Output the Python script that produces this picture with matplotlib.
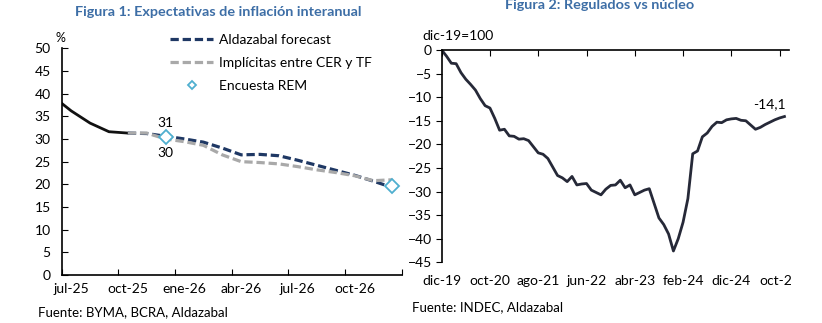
import numpy as np
import matplotlib.pyplot as plt
from matplotlib.transforms import Bbox

plt.rcParams['font.family'] = ['Lato', 'DejaVu Sans']
plt.rcParams['font.size'] = 10

# Figure 1 data: monthly, jun-25 .. dic-26
months_1 = ['jun-25', 'jul-25', 'ago-25', 'sep-25', 'oct-25', 'nov-25', 'dic-25',
            'ene-26', 'feb-26', 'mar-26', 'abr-26', 'may-26', 'jun-26', 'jul-26',
            'ago-26', 'sep-26', 'oct-26', 'nov-26', 'dic-26']
actual = [39.5, 36.2, 33.5, 31.6, 31.3]
forecast = [31.3, 31.2, 30.6, 30.0, 29.3, 28.0, 26.5, 26.6, 26.3, 25.3,
            24.2, 23.1, 22.0, 20.7, 19.3]
implicit = [31.3, 31.3, 30.0, 29.4, 28.6, 26.5, 25.0, 24.8, 24.5, 23.9,
            23.2, 22.6, 21.9, 20.8, 21.0]
rem_months = ['dic-25', 'dic-26']
rem_values = [30.5, 19.6]
tick_labels_1 = ['jul-25', 'oct-25', 'ene-26', 'abr-26', 'jul-26', 'oct-26']

# Figure 2 data: monthly, dic-19 .. nov-25
regulados = [0.0, -1.3, -2.8, -2.9, -4.8, -6.2, -7.3, -8.5, -10.3, -11.8,
             -12.3, -14.5, -17.0, -16.8, -18.2, -18.3, -18.9, -18.8, -19.2, -20.5,
             -21.8, -22.1, -23.0, -24.8, -26.6, -27.1, -27.9, -26.8, -28.6, -28.4,
             -28.3, -29.7, -30.2, -30.7, -29.5, -28.7, -28.6, -27.6, -29.2, -28.6,
             -30.7, -30.2, -29.7, -29.4, -32.5, -35.6, -37.0, -39.0, -42.6, -40.0,
             -36.5, -31.5, -22.0, -21.4, -18.4, -17.6, -16.2, -15.3, -15.4, -14.8,
             -14.6, -14.5, -14.9, -15.0, -15.9, -16.8, -16.4, -15.8, -15.3, -14.8,
             -14.4, -14.1]
tick_labels_2 = ['dic-19', 'oct-20', 'ago-21', 'jun-22', 'abr-23', 'feb-24',
                 'dic-24', 'oct-25']

title_color = '#3D6EA6'
navy = '#1F3864'
grey = '#A9A9A9'
rem_color = '#4FAFCF'

fig = plt.figure(figsize=(8.22, 3.23), dpi=100)

# ---- Figura 1 ----
ax1 = fig.add_axes([0.0751, 0.1486, 0.4136, 0.7019])
x1 = np.arange(len(months_1))
ax1.plot(x1[:5], actual, color='#111111', lw=2.0, solid_joinstyle='round')
ax1.plot(x1[4:], forecast, color=navy, lw=2.3, dashes=(2.6, 1.2),
         label='Aldazabal forecast')
ax1.plot(x1[4:], implicit, color=grey, lw=2.3, dashes=(2.6, 1.2),
         label='Implícitas entre CER y TF')
rem_x = [months_1.index(m) for m in rem_months]
ax1.plot(rem_x, rem_values, ls='none', marker='D', ms=7, mfc='white',
         mec=rem_color, mew=1.3, label='Encuesta REM')

i_dic = months_1.index('dic-25')
ax1.text(i_dic, forecast[i_dic - 4] + 1.6, f'{forecast[i_dic - 4]:.0f}',
         ha='center', va='bottom', fontsize=10)
ax1.text(i_dic, implicit[i_dic - 4] - 1.7, f'{implicit[i_dic - 4]:.0f}',
         ha='center', va='top', fontsize=10)

ax1.set_xlim(0.5, len(months_1) - 0.5)
ax1.set_ylim(0, 50)
ax1.set_yticks(np.arange(0, 51, 5))
ax1.set_xticks(np.arange(0.5, len(months_1), 3))
ax1.set_xticklabels([])
ax1.set_xticks([months_1.index(m) for m in tick_labels_1], minor=True)
ax1.set_xticklabels(tick_labels_1, minor=True)
ax1.tick_params(axis='x', which='minor', length=0, pad=6)
ax1.tick_params(axis='x', which='major', direction='in', length=4)
ax1.tick_params(axis='y', direction='in', length=4, pad=8)
for s in ['top', 'right']:
    ax1.spines[s].set_visible(False)
for s in ['left', 'bottom']:
    ax1.spines[s].set_linewidth(1.2)

leg = ax1.legend(loc='upper left', bbox_to_anchor=(0.2068, 0.895),
                 bbox_transform=fig.transFigure, frameon=False,
                 borderpad=0, borderaxespad=0, handlelength=3.1,
                 handletextpad=0.4, labelspacing=0.8, fontsize=10,
                 markerscale=0.6)

fig.text(0.265, 0.962, 'Figura 1: Expectativas de inflación interanual',
         ha='center', va='center', fontsize=10.4, fontweight='bold',
         color=title_color)
fig.text(0.074, 0.882, '%', ha='center', va='center', fontsize=9)
fig.text(0.046, 0.035, 'Fuente: BYMA, BCRA, Aldazabal', ha='left',
         va='center', fontsize=9.5)

# ---- Figura 2 ----
ax2 = fig.add_axes([0.5373, 0.1879, 0.4229, 0.6573])
x2 = np.arange(len(regulados))
ax2.plot(x2, regulados, color='#262938', lw=2.0, solid_joinstyle='round')
ax2.text(x2[-1] + 0.3, regulados[-1] + 1.3, f'{regulados[-1]:.1f}'.replace('.', ','),
         ha='right', va='bottom', fontsize=10)

ax2.set_xlim(0, 72)
ax2.set_ylim(-45, 0)
ax2.set_yticks(np.arange(-45, 1, 5))
ax2.set_xticks(np.arange(0, 71, 10))
ax2.set_xticklabels(tick_labels_2)
ax2.tick_params(axis='x', top=True, bottom=False, labeltop=False,
                labelbottom=True, direction='in', length=4, pad=9)
ax2.tick_params(axis='y', direction='out', length=4, pad=3)
for s in ['bottom', 'right']:
    ax2.spines[s].set_visible(False)
for s in ['left', 'top']:
    ax2.spines[s].set_linewidth(1.2)

fig.text(0.73, 0.985, 'Figura 2: Regulados vs núcleo', ha='center',
         va='center', fontsize=10.4, fontweight='bold', color=title_color)
fig.text(0.514, 0.89, 'dic-19=100', ha='left', va='center', fontsize=10)
fig.text(0.501, 0.05, 'Fuente: INDEC, Aldazabal', ha='left', va='center',
         fontsize=9.5)

# the last date label runs past the chart frame and is cut there
fig.canvas.draw()
clip = Bbox.from_extents(0, 0, 791, 323)
for lab in ax2.get_xticklabels():
    lab.set_clip_box(clip)
    lab.set_clip_on(True)

fig.savefig('out.png', dpi=100)
